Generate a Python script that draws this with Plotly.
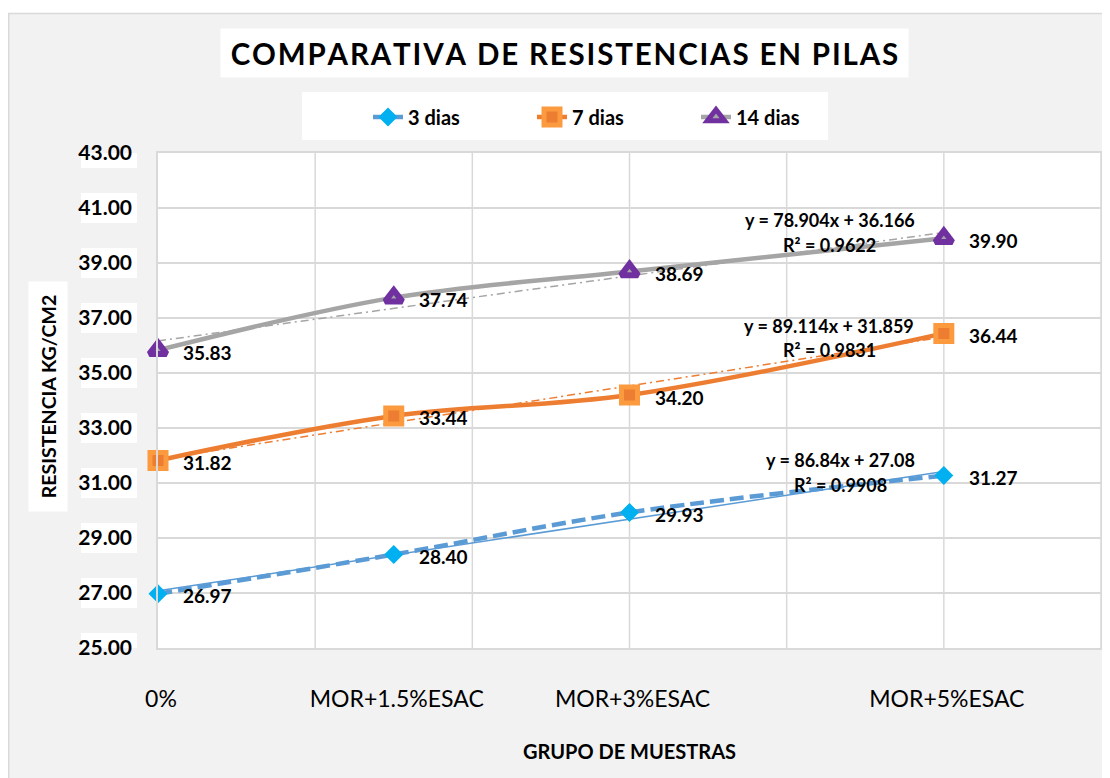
import plotly.graph_objects as go

# ---------------- data ----------------
x_pos = [0, 0.015, 0.03, 0.05]
x_labels = ["0%", "MOR+1.5%ESAC", "MOR+3%ESAC", "MOR+5%ESAC"]
series_names = ["3 dias", "7 dias", "14 dias"]
dias3 = [26.97, 28.40, 29.93, 31.27]
dias7 = [31.82, 33.44, 34.20, 36.44]
dias14 = [35.83, 37.74, 38.69, 39.90]
trend_slope = [86.84, 89.114, 78.904]
trend_intercept = [27.08, 31.859, 36.166]
trend_eq_text = ["y = 86.84x + 27.08", "y = 89.114x + 31.859", "y = 78.904x + 36.166"]
trend_r2_text = ["R² = 0.9908", "R² = 0.9831", "R² = 0.9622"]
y_ticks = [25, 27, 29, 31, 33, 35, 37, 39, 41, 43]
title_text = "COMPARATIVA DE RESISTENCIAS EN PILAS"
y_title = "RESISTENCIA KG/CM2"
x_title = "GRUPO DE MUESTRAS"

# ---------------- geometry ----------------
OFF = 8                      # page body margin
W, H = 1102, 770             # figure size (fits the 1110x778 window with body margin)
ML, MR, MT, MB = 150, 9, 145, 130
PW, PH = W - ML - MR, H - MT - MB
PX_PER_UNIT = PH / (y_ticks[-1] - y_ticks[0])


def fx(sx):
    """screen x pixel -> paper coord"""
    return (sx - OFF - ML) / PW


def fy(sy):
    """screen y pixel -> paper coord"""
    return (H - MB - (sy - OFF)) / PH


FONT = "Lato"
GRID = "#d9d9d9"

styles = [
    dict(line=dict(color="#5b9bd5", width=4.5, dash="14px,6px", shape="spline", smoothing=1.0),
         marker=dict(symbol="diamond", size=13, color="#00b0f0", line=dict(width=1.5, color="#00b0f0"))),
    dict(line=dict(color="#ed7d31", width=4.5, shape="spline", smoothing=1.0),
         marker=dict(symbol="square", size=16, color="#ed7d31", line=dict(width=5, color="#fb9a3e"))),
    dict(line=dict(color="#a5a5a5", width=4.5, shape="spline", smoothing=1.0),
         marker=dict(symbol="triangle-up", size=15, color="#a5a5a5", line=dict(width=6, color="#7030a0"))),
]
trend_styles = [
    dict(color="#5b9bd5", width=1.5),
    dict(color="#ed7d31", width=1.5, dash="8px,4px,2px,4px"),
    dict(color="#a5a5a5", width=1.5, dash="8px,4px,2px,4px"),
]
series = [dias3, dias7, dias14]

fig = go.Figure()

# trendlines
x_tr = [x_pos[0], x_pos[-1]]
for i in range(3):
    fig.add_trace(go.Scatter(
        x=x_tr, y=[trend_slope[i] * xv + trend_intercept[i] for xv in x_tr],
        mode="lines", line=trend_styles[i], showlegend=False, hoverinfo="skip"))

# series
for i in range(3):
    fig.add_trace(go.Scatter(
        x=x_pos, y=series[i], name=series_names[i], mode="lines+markers",
        line=styles[i]["line"], marker=styles[i]["marker"], cliponaxis=False))

annotations = []
# data labels
for s in series:
    for xv, yv in zip(x_pos, s):
        annotations.append(dict(
            x=xv, y=yv, xref="x", yref="y", text=f"{yv:.2f}", showarrow=False,
            xanchor="left", yanchor="middle", xshift=23, yshift=-2,
            font=dict(family=FONT, size=19, color="black", weight="bold")))

# trend equations (screen pixel anchors)
eq_pos = [((840, 460), (840, 485)), ((829, 326), (829, 350)), ((830, 220), (829, 245))]
for i in range(3):
    (ex, ey), (rx, ry) = eq_pos[i]
    annotations.append(dict(x=fx(ex), y=fy(ey), xref="paper", yref="paper", text=trend_eq_text[i],
                            showarrow=False, xanchor="center", yanchor="middle",
                            font=dict(family=FONT, size=18, color="black", weight="bold")))
    annotations.append(dict(x=fx(rx), y=fy(ry), xref="paper", yref="paper", text=trend_r2_text[i],
                            showarrow=False, xanchor="center", yanchor="middle",
                            font=dict(family=FONT, size=18, color="black", weight="bold")))

# title
spaced_title = "\u200a".join(title_text)
annotations.append(dict(x=fx(564.5), y=fy(53), xref="paper", yref="paper", text=spaced_title,
                        showarrow=False, xanchor="center", yanchor="middle",
                        width=687, height=48, bgcolor="white", borderpad=0,
                        font=dict(family=FONT, size=29.5, color="black", weight="bold")))
# axis titles
annotations.append(dict(x=fx(48), y=fy(397), xref="paper", yref="paper", text=y_title,
                        showarrow=False, xanchor="center", yanchor="middle", textangle=-90,
                        width=229, height=38, bgcolor="white", borderpad=0,
                        font=dict(family=FONT, size=19.5, color="black", weight="bold")))
annotations.append(dict(x=fx(629), y=fy(751), xref="paper", yref="paper", text=x_title,
                        showarrow=False, xanchor="center", yanchor="middle",
                        font=dict(family=FONT, size=20, color="black", weight="bold")))

shapes = []
# outer white strip at top + panel border
shapes.append(dict(type="rect", xref="paper", yref="paper", x0=fx(0), x1=fx(1120), y0=fy(13), y1=fy(0),
                   fillcolor="white", line=dict(width=0), layer="below"))
shapes.append(dict(type="line", xref="paper", yref="paper", x0=fx(8), x1=fx(1120), y0=fy(13.5), y1=fy(13.5),
                   line=dict(color=GRID, width=1.5), layer="below"))
shapes.append(dict(type="line", xref="paper", yref="paper", x0=fx(8.75), x1=fx(8.75), y0=fy(790), y1=fy(13),
                   line=dict(color=GRID, width=1.5), layer="below"))
# legend box
shapes.append(dict(type="rect", xref="paper", yref="paper", x0=fx(302), x1=fx(828), y0=fy(140), y1=fy(92),
                   fillcolor="white", line=dict(width=0), layer="below"))
# y tick label boxes
half = 15 / PX_PER_UNIT
for v in y_ticks:
    shapes.append(dict(type="rect", xref="paper", yref="y", x0=fx(81), x1=fx(137), y0=v - half, y1=v + half,
                       fillcolor="white", line=dict(width=0), layer="below"))
# vertical gridlines every 0.01
for k in range(1, 7):
    shapes.append(dict(type="line", xref="x", yref="paper", x0=k * 0.01, x1=k * 0.01, y0=0, y1=1,
                       line=dict(color=GRID, width=1.5), layer="below"))

fig.update_layout(
    width=W, height=H,
    margin=dict(l=ML, r=MR, t=MT, b=MB, autoexpand=False),
    paper_bgcolor="#f2f2f2", plot_bgcolor="white",
    font=dict(family=FONT, color="black"),
    showlegend=True,
    legend=dict(orientation="h", x=fx(368), y=fy(117), xanchor="left", yanchor="middle",
                bgcolor="rgba(0,0,0,0)", entrywidth=119, entrywidthmode="pixels",
                font=dict(family=FONT, size=20, color="black", weight="bold")),
    annotations=annotations,
    shapes=shapes,
)
fig.update_xaxes(range=[0, 0.06], tickvals=x_pos, ticktext=x_labels, showgrid=False,
                 showline=True, linecolor=GRID, linewidth=1.5, mirror=True, zeroline=False,
                 ticks="", ticklabelstandoff=30, ticklabelshift=3,
                 tickfont=dict(family=FONT, size=23, color="black"))
fig.update_yaxes(range=[y_ticks[0], y_ticks[-1]], tickvals=y_ticks, tickformat=".2f",
                 showgrid=True, gridcolor=GRID, gridwidth=1.5,
                 showline=True, linecolor=GRID, linewidth=1.5, mirror=True, zeroline=False,
                 ticks="", ticklabelstandoff=20,
                 tickfont=dict(family=FONT, size=21, color="black", weight="bold"))

fig.write_html("out.html")
